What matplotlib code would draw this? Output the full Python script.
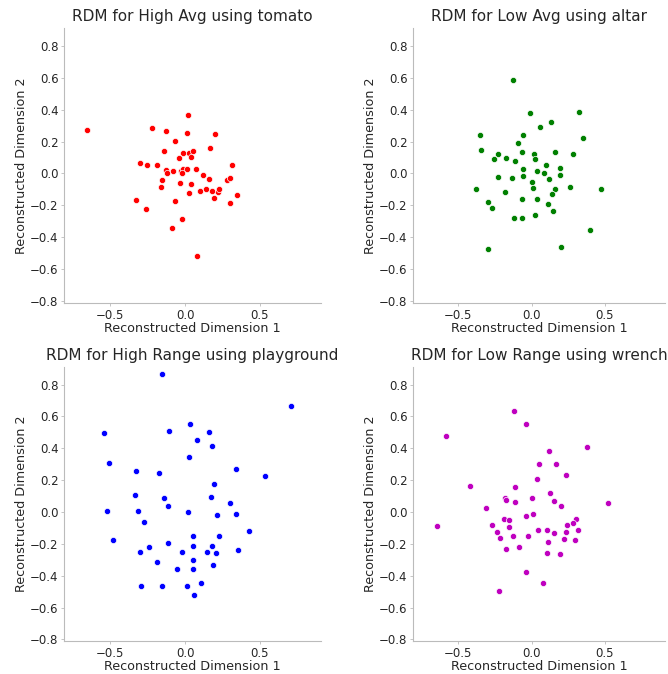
import numpy as np
import matplotlib
matplotlib.use("Agg")
import matplotlib.pyplot as plt

# High Avg - tomato
tomato_x = [-0.656, 0.020, -0.224, -0.128, 0.011, 0.201, -0.065, 0.166, -0.141, -0.016,
            0.029, 0.054, -0.038, 0.040, -0.304, -0.253, -0.188, 0.316, -0.130, -0.081,
            -0.123, -0.025, -0.011, 0.016, 0.072, -0.022, 0.123, -0.157, 0.161, 0.282,
            0.300, -0.036, 0.038, -0.161, 0.103, 0.143, 0.179, 0.219, 0.226, 0.027,
            0.351, 0.195, -0.331, -0.069, 0.304, -0.260, -0.022, -0.087, 0.078]
tomato_y = [0.272, 0.366, 0.282, 0.264, 0.255, 0.249, 0.205, 0.157, 0.142, 0.126,
            0.130, 0.142, 0.100, 0.105, 0.065, 0.050, 0.050, 0.054, 0.021, 0.015,
            0.000, 0.017, 0.025, 0.027, 0.031, 0.004, -0.008, -0.042, -0.036, -0.038,
            -0.027, -0.059, -0.065, -0.084, -0.107, -0.098, -0.107, -0.113, -0.094, -0.119,
            -0.134, -0.151, -0.167, -0.174, -0.186, -0.220, -0.285, -0.339, -0.515]

# Low Avg - altar
altar_x = [-0.125, -0.013, 0.326, 0.134, 0.054, -0.355, -0.060, 0.350, -0.096, -0.346,
           -0.065, 0.016, 0.156, -0.232, 0.279, -0.259, -0.172, 0.025, -0.112, 0.098,
           0.194, -0.060, 0.036, 0.087, -0.232, -0.058, 0.190, -0.136, 0.116, 0.000,
           0.007, 0.263, -0.377, 0.475, 0.156, -0.183, 0.136, -0.069, 0.038, -0.299,
           0.112, -0.272, 0.147, 0.020, -0.121, -0.069, 0.395, 0.199, -0.297]
altar_y = [0.586, 0.379, 0.385, 0.322, 0.289, 0.241, 0.241, 0.222, 0.188, 0.149,
           0.132, 0.123, 0.132, 0.121, 0.119, 0.092, 0.096, 0.090, 0.077, 0.054,
           0.036, 0.031, 0.015, 0.000, -0.019, -0.013, -0.008, -0.029, -0.036, -0.056,
           -0.088, -0.084, -0.100, -0.098, -0.094, -0.117, -0.126, -0.159, -0.161, -0.176,
           -0.188, -0.218, -0.236, -0.262, -0.276, -0.276, -0.356, -0.458, -0.475]

# High Range - playground
play_x = [-0.157, 0.707, -0.539, 0.034, -0.105, 0.161, 0.078, 0.181, -0.506, 0.029,
          -0.329, 0.338, -0.172, 0.535, 0.195, -0.333, 0.172, -0.143, 0.298, -0.112,
          -0.519, -0.315, 0.022, 0.342, 0.213, -0.273, 0.427, 0.056, 0.226, -0.481,
          -0.114, -0.244, 0.056, 0.183, -0.302, -0.020, 0.150, 0.210, 0.356, -0.188,
          0.051, 0.190, -0.051, 0.054, -0.295, -0.152, 0.011, 0.105, 0.063]
play_y = [0.868, 0.666, 0.493, 0.555, 0.507, 0.503, 0.449, 0.413, 0.305, 0.342,
          0.257, 0.271, 0.242, 0.225, 0.175, 0.104, 0.094, 0.090, 0.054, 0.040,
          0.006, 0.004, -0.002, -0.015, -0.021, -0.061, -0.121, -0.152, -0.148, -0.175,
          -0.196, -0.217, -0.211, -0.215, -0.253, -0.253, -0.251, -0.257, -0.240, -0.311,
          -0.303, -0.332, -0.357, -0.361, -0.466, -0.466, -0.463, -0.445, -0.524]

# Low Range - wrench
wrench_x = [-0.123, -0.042, -0.585, 0.377, 0.118, 0.047, 0.165, 0.234, 0.036, -0.424,
            -0.116, 0.123, -0.185, -0.174, 0.002, 0.152, -0.112, 0.520, -0.310, 0.203,
            0.011, -0.040, -0.190, -0.158, 0.301, -0.647, -0.268, -0.154, 0.243, 0.279,
            0.045, 0.107, 0.319, -0.234, 0.150, 0.237, -0.127, -0.022, -0.219, 0.219,
            0.299, 0.109, -0.085, -0.176, 0.107, 0.190, -0.040, 0.080, -0.225]
wrench_y = [0.635, 0.553, 0.478, 0.409, 0.382, 0.301, 0.301, 0.234, 0.207, 0.161,
            0.154, 0.121, 0.088, 0.075, 0.086, 0.067, 0.061, 0.058, 0.023, 0.035,
            -0.010, -0.023, -0.042, -0.052, -0.042, -0.090, -0.081, -0.096, -0.081, -0.071,
            -0.113, -0.113, -0.115, -0.123, -0.134, -0.123, -0.148, -0.148, -0.163, -0.167,
            -0.173, -0.190, -0.219, -0.234, -0.257, -0.263, -0.378, -0.445, -0.497]

titles = ["RDM for High Avg using tomato", "RDM for Low Avg using altar",
          "RDM for High Range using playground", "RDM for Low Range using wrench"]
colors = ["r", "g", "b", "m"]
xs = [tomato_x, altar_x, play_x, wrench_x]
ys = [tomato_y, altar_y, play_y, wrench_y]

plt.rcParams["text.color"] = "#262626"
plt.rcParams["axes.labelcolor"] = "#262626"
plt.rcParams["xtick.color"] = "#262626"
plt.rcParams["ytick.color"] = "#262626"

fig = plt.figure(figsize=(6.68, 6.74), dpi=100)
# axes boxes in pixels: left, top, right, bottom
boxes = [(64, 28, 321, 303), (413, 28, 665, 303),
         (64, 367, 321, 641), (413, 367, 665, 641)]
W, H = 668, 674
for i in range(4):
    l, t, r, b = boxes[i]
    ax = fig.add_axes([l / W, 1 - b / H, (r - l) / W, (b - t) / H])
    ax.scatter(xs[i], ys[i], c=colors[i], s=20, edgecolors="white", linewidths=0.5)
    ax.set_xlim(-0.81, 0.91)
    ax.set_ylim(-0.81, 0.91)
    ax.set_xticks([-0.5, 0.0, 0.5])
    ax.set_yticks([-0.8, -0.6, -0.4, -0.2, 0.0, 0.2, 0.4, 0.6, 0.8])
    ax.set_title(titles[i], fontsize=11, pad=5)
    ax.set_xlabel("Reconstructed Dimension 1", fontsize=9.2, labelpad=0.5)
    ax.set_ylabel("Reconstructed Dimension 2", fontsize=9.2, labelpad=1.5)
    ax.tick_params(labelsize=8.5, length=2.5, width=0.6, color="#bbbbbb", pad=1.5)
    for side in ["top", "right"]:
        ax.spines[side].set_visible(False)
    for side in ["left", "bottom"]:
        ax.spines[side].set_color("#bbbbbb")
        ax.spines[side].set_linewidth(0.8)

fig.savefig("out.png", dpi=100)
